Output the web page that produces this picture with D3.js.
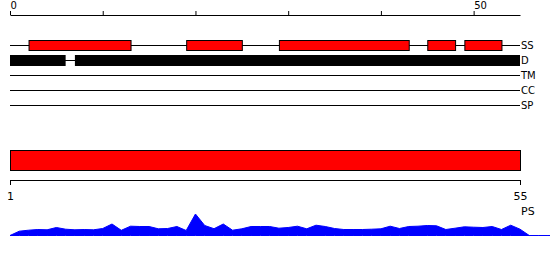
<!DOCTYPE html>
<html>
<head>
<meta charset="utf-8">
<script src="https://cdn.jsdelivr.net/npm/d3@7"></script>
<style>
  html, body { margin: 0; padding: 0; background: #fff; }
  svg { display: block; font-family: "DejaVu Sans", sans-serif; }
</style>
</head>
<body>
<svg id="chart" width="550" height="260"></svg>
<script>
// ---- data ----
const seqLength = 55;
const trackNames = ["SS", "D", "TM", "CC", "SP"];
const ssSegments = [[2, 13], [19, 25], [29, 43], [45, 48], [49, 53]];
const disorderSegments = [[0, 6], [7, 55]];
const psRange = [0, 55];
const topTickValues = [0, 10, 20, 30, 40, 50];
const topTickLabels = ["0", "", "", "", "", "50"];
const bottomTickValues = [1, 55];
const bottomTickLabels = ["1", "55"];
const profilePositions = [0,1,2,3,4,5,6,7,8,9,10,11,12,13,14,15,16,17,18,19,20,21,22,23,24,25,26,27,28,29,30,31,32,33,34,35,36,37,38,39,40,41,42,43,44,45,46,47,48,49,50,51,52,53,54,55,56,57,58,59,60];
const profileValues = [0,4.3,5.3,6,5.7,8,6.3,5.7,6,5.7,7,11.5,5.2,9.3,9,9,6.7,7,9,5,21.5,10,6.8,11.5,5.3,6.7,9,9,9,7.3,8,9.3,6.7,10.3,9,7,6,6,6,6.3,6.7,9.3,7,9,9.3,10,9.7,6,7.3,8.7,8.3,8,9,6,10.3,6.3,0,0,0,0,0];

// ---- drawing ----
const svg = d3.select("#chart");
const x = d3.scaleLinear().domain([0, seqLength]).range([10, 520]);
const xb = d3.scaleLinear().domain([1, seqLength]).range([10, 520]);
const rowY = d3.scalePoint().domain(trackNames).range([45.5, 105.5]);
const yArea = d3.scaleLinear().domain([0, 25]).range([235.5, 210.5]);

// top axis
const topAxis = d3.axisTop(x)
  .tickValues(topTickValues)
  .tickSize(4)
  .tickSizeOuter(0)
  .tickFormat((d, i) => topTickLabels[i]);
const gTop = svg.append("g").attr("transform", "translate(0,15)").call(topAxis);
gTop.selectAll("text")
  .attr("y", -6).attr("dy", null)
  .attr("text-anchor", "start")
  .attr("font-size", 10)
  .attr("font-family", "DejaVu Sans, sans-serif")
  .attr("fill", "#000");
gTop.selectAll("path,line").attr("stroke", "#000");

// track baselines
svg.append("g").selectAll("line").data(trackNames).join("line")
  .attr("x1", x(0)).attr("x2", x(seqLength))
  .attr("y1", d => rowY(d)).attr("y2", d => rowY(d))
  .attr("stroke", "#000").attr("stroke-width", 1);

// track labels
svg.append("g").selectAll("text").data(trackNames).join("text")
  .attr("x", x(seqLength) + 1)
  .attr("y", d => rowY(d))
  .attr("dy", "0.35em")
  .attr("font-size", 10)
  .attr("fill", "#000")
  .text(d => d);

// SS segments
svg.append("g").selectAll("rect").data(ssSegments).join("rect")
  .attr("x", d => x(d[0]) + 0.5)
  .attr("width", d => x(d[1]) - x(d[0]))
  .attr("y", rowY("SS") - 5)
  .attr("height", 10)
  .attr("fill", "#ff0000")
  .attr("stroke", "#000").attr("stroke-width", 1);

// disorder segments
svg.append("g").selectAll("rect").data(disorderSegments).join("rect")
  .attr("x", d => x(d[0]))
  .attr("width", d => x(d[1]) - x(d[0]))
  .attr("y", rowY("D") - 5.5)
  .attr("height", 11)
  .attr("fill", "#000");

// PS big rect
svg.append("rect")
  .attr("x", x(psRange[0]) + 0.5)
  .attr("width", x(psRange[1]) - x(psRange[0]))
  .attr("y", 150.5)
  .attr("height", 20)
  .attr("fill", "#ff0000")
  .attr("stroke", "#000").attr("stroke-width", 1);

// bottom axis
const bottomAxis = d3.axisBottom(xb)
  .tickValues(bottomTickValues)
  .tickSize(5)
  .tickSizeOuter(0)
  .tickPadding(7)
  .tickFormat((d, i) => bottomTickLabels[i]);
const gBot = svg.append("g").attr("transform", "translate(0,180)").call(bottomAxis);
gBot.selectAll("text")
  .attr("font-size", 11)
  .attr("font-family", "DejaVu Sans, sans-serif")
  .attr("fill", "#000");
gBot.selectAll("path,line").attr("stroke", "#000");

svg.append("text")
  .attr("x", x(seqLength) + 1)
  .attr("y", 215)
  .attr("font-size", 11)
  .attr("fill", "#000")
  .text("PS");

// profile area
const area = d3.area()
  .x((d, i) => x(profilePositions[i]))
  .y0(yArea(0))
  .y1(d => yArea(d));
svg.append("path")
  .datum(profileValues)
  .attr("d", area)
  .attr("fill", "#0000ff")
  .attr("stroke", "#0000ff")
  .attr("stroke-width", 1);
</script>
</body>
</html>
